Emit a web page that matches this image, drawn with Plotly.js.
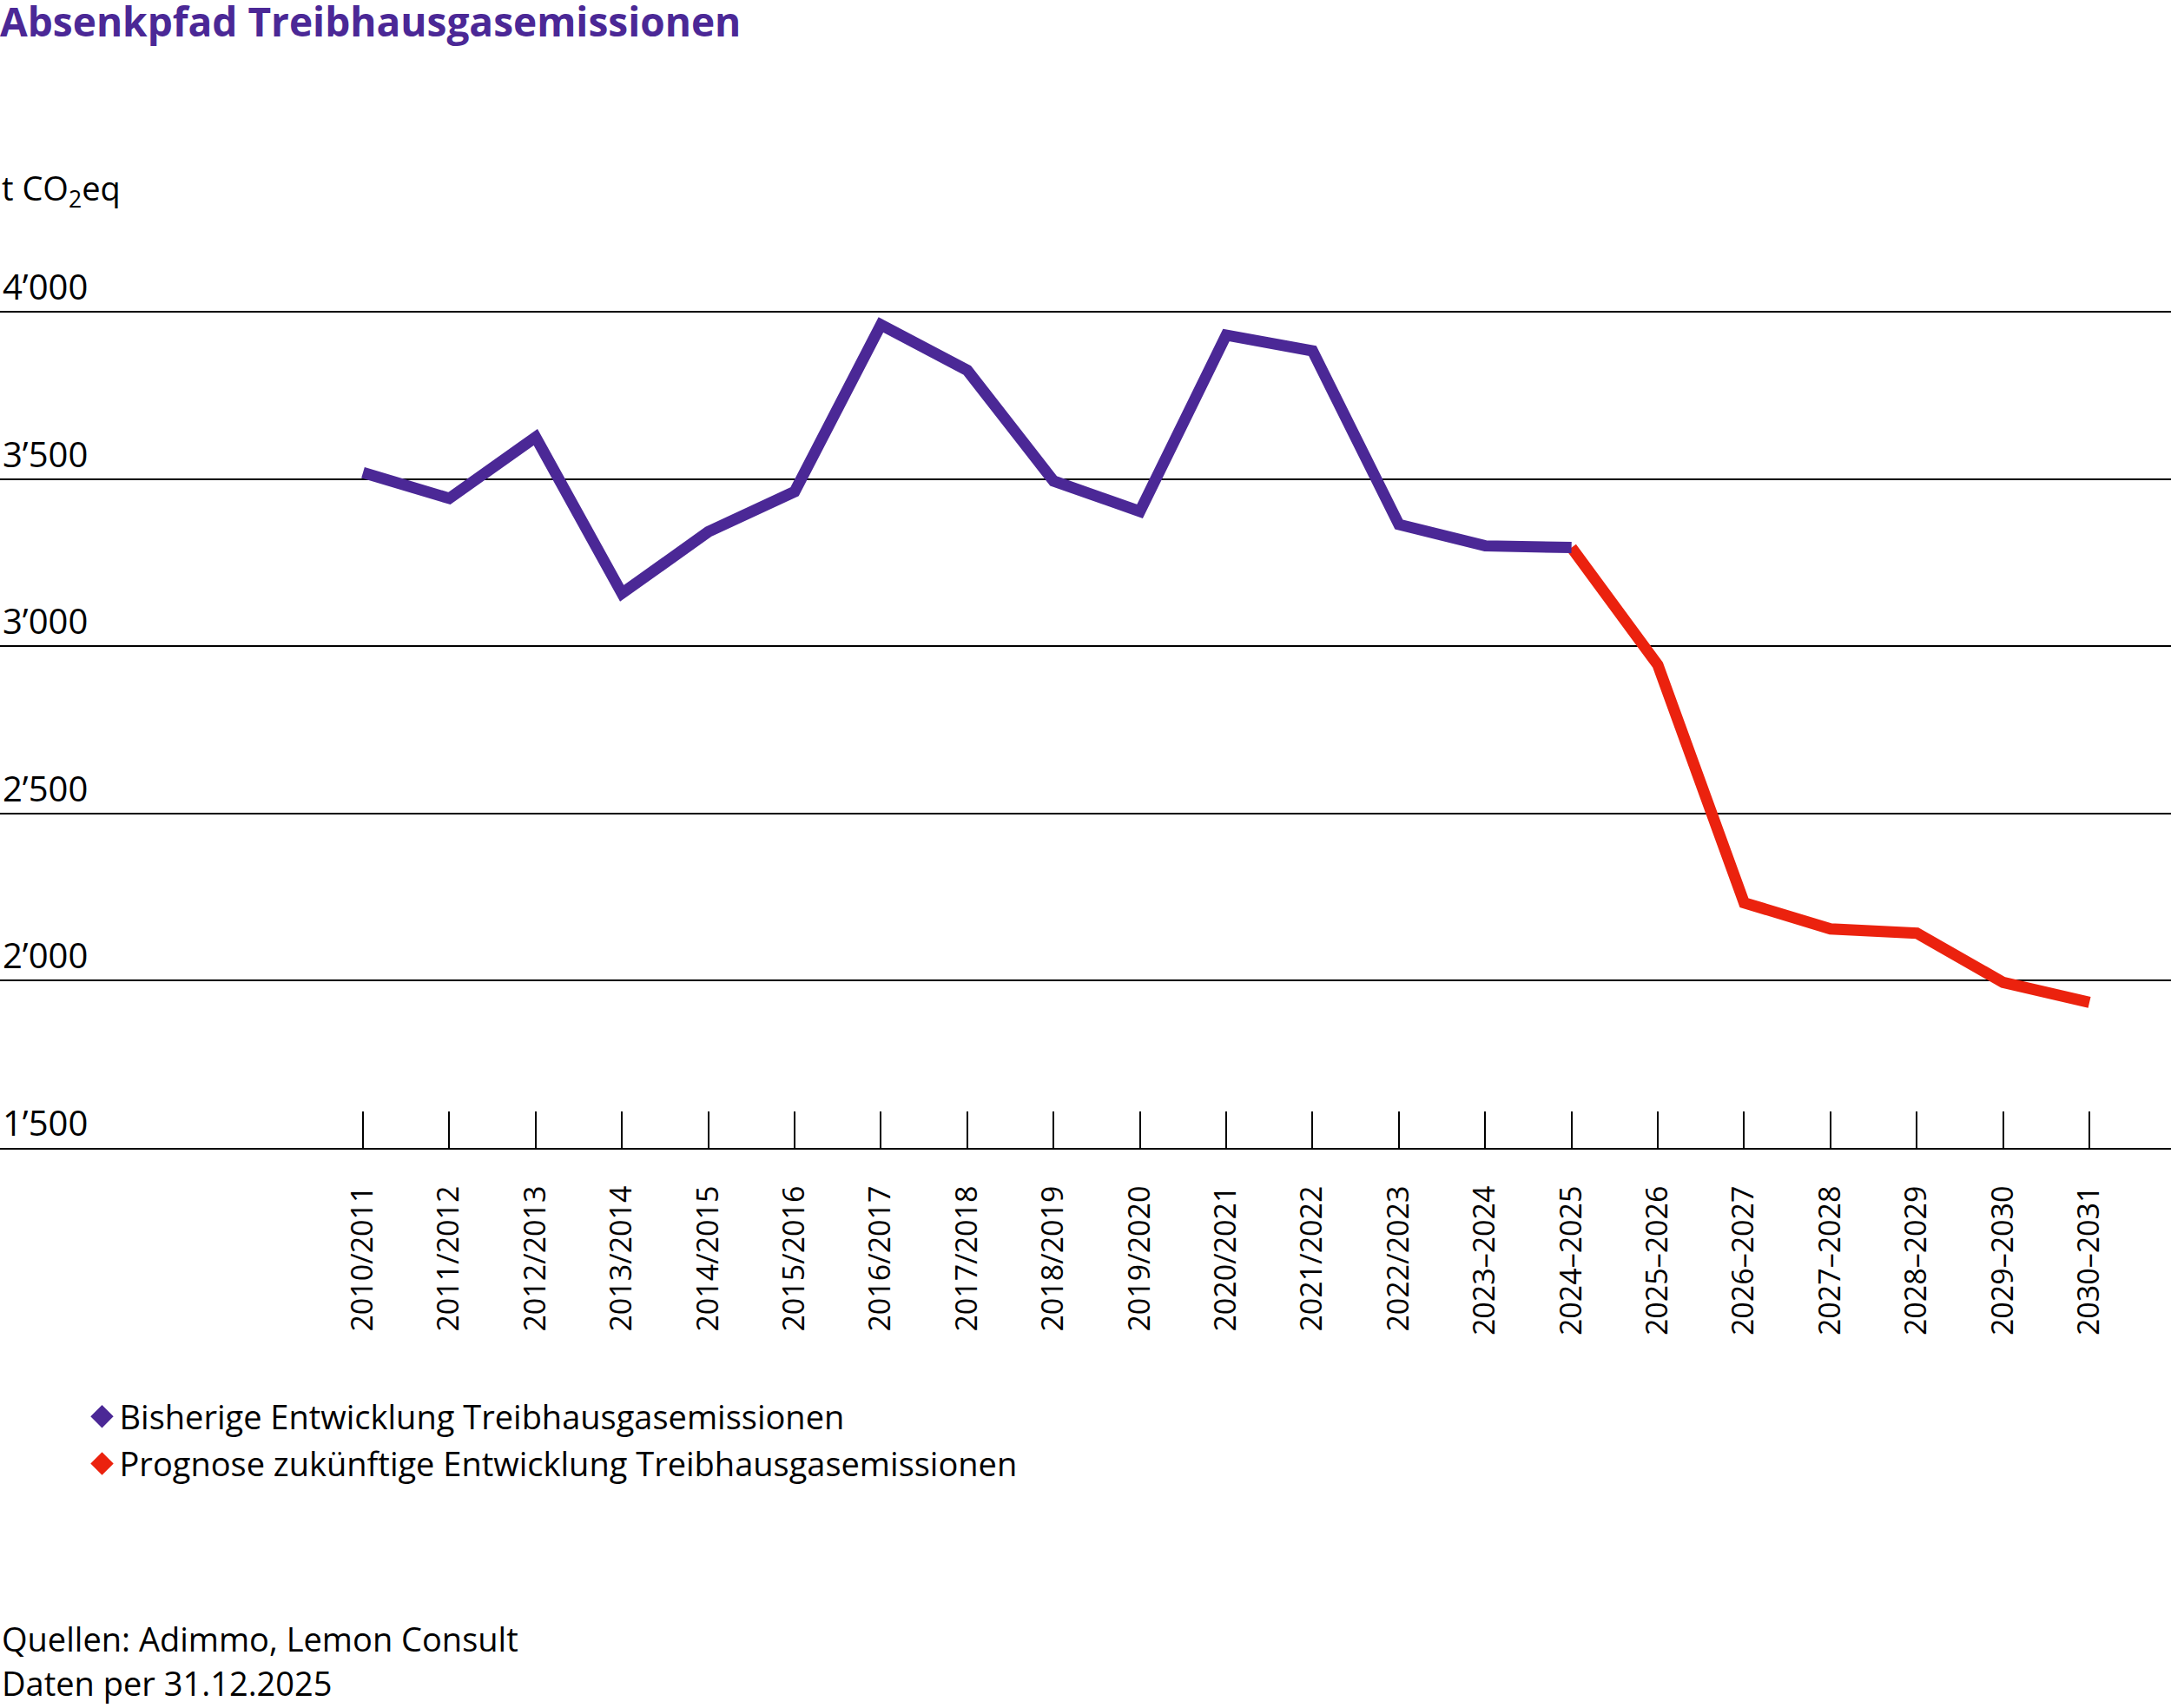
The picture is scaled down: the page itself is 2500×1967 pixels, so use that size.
<!DOCTYPE html>
<html>
<head>
<meta charset="utf-8">
<script src="https://cdn.plot.ly/plotly-3.0.1.min.js"></script>
<style>
  html, body { margin: 0; padding: 0; background: #fff; }
  #chart { width: 2500px; height: 1967px; }
</style>
</head>
<body>
<div id="chart"></div>
<script>
// school years on the x axis
var categories = ["2010/2011", "2011/2012", "2012/2013", "2013/2014", "2014/2015", "2015/2016",
  "2016/2017", "2017/2018", "2018/2019", "2019/2020", "2020/2021", "2021/2022", "2022/2023",
  "2023–2024", "2024–2025", "2025–2026", "2026–2027", "2027–2028", "2028–2029", "2029–2030", "2030–2031"];

// t CO2eq
var histValues = [3519, 3442, 3625, 3158, 3342, 3462, 3961, 3825, 3494, 3403, 3930, 3883, 3364, 3300, 3295];
var forecastValues = [3295, 2944, 2233, 2155, 2142, 1995, 1935];  // from 2024–2025 on

var yTickVals = [1500, 2000, 2500, 3000, 3500, 4000];
var yTickText = ["1’500", "2’000", "2’500", "3’000", "3’500", "4’000"];

var histName = "Bisherige Entwicklung Treibhausgasemissionen";
var forecastName = "Prognose zukünftige Entwicklung Treibhausgasemissionen";

var purple = "#4b2896";
var red = "#eb220e";
var fontFam = "'Open Sans', 'Noto Sans', sans-serif";

var histCats = categories.slice(0, histValues.length);
var forecastCats = categories.slice(histValues.length - 1);

var traceForecast = {
  x: forecastCats,
  y: forecastValues,
  type: 'scatter',
  mode: 'lines',
  line: {color: red, width: 13},
  showlegend: false
};

var traceHist = {
  x: histCats,
  y: histValues,
  type: 'scatter',
  mode: 'lines',
  line: {color: purple, width: 13},
  showlegend: false
};

// legend entries with diamonds
var legHist = {
  x: [null], y: [null], type: 'scatter', mode: 'markers',
  name: histName, legendgroup: 'a',
  marker: {symbol: 'diamond', color: purple, size: 16, line: {color: purple, width: 4}}
};
var legForecast = {
  x: [null], y: [null], type: 'scatter', mode: 'markers',
  name: forecastName, legendgroup: 'b',
  marker: {symbol: 'diamond', color: red, size: 16, line: {color: red, width: 4}}
};

var plotTop = 300, plotBottom = 1322, plotH = plotBottom - plotTop;
function paperY(py) { return (plotBottom - py) / plotH; }

var layout = {
  width: 2500,
  height: 1967,
  margin: {l: 0, r: 0, t: plotTop, b: 1967 - plotBottom, autoexpand: false},
  paper_bgcolor: '#fff',
  plot_bgcolor: '#fff',
  font: {family: fontFam, size: 38, color: '#000'},
  title: {
    text: 'Absenkpfad Treibhausgasemissionen',
    x: 0, xref: 'container', xanchor: 'left',
    y: 0.995, yref: 'container', yanchor: 'top',
    pad: {t: 0, l: 0},
    font: {family: fontFam, size: 46, weight: 700, color: purple}
  },
  xaxis: {
    type: 'category',
    categoryorder: 'array',
    categoryarray: categories,
    range: [-4.205, 20.945],
    showgrid: false,
    zeroline: false,
    showline: true,
    linecolor: '#000',
    linewidth: 2,
    ticks: 'inside',
    ticklen: 42,
    tickwidth: 2,
    tickcolor: '#000',
    tickangle: -90,
    ticklabelstandoff: 28,
    tickfont: {family: fontFam, size: 34, color: '#000'},
    fixedrange: true
  },
  yaxis: {
    range: [1500, 1500 + plotH / 192.6 * 500],
    tickvals: yTickVals,
    ticktext: yTickText,
    showgrid: true,
    gridcolor: '#000',
    gridwidth: 2,
    zeroline: false,
    showline: false,
    ticks: '',
    ticklabelposition: 'inside top',
    tickfont: {family: fontFam, size: 40, color: '#000'},
    fixedrange: true
  },
  legend: {
    x: 0.039, xref: 'container', xanchor: 'left',
    y: 1 - 1600 / 1967, yref: 'container', yanchor: 'top',
    traceorder: 'grouped',
    tracegroupgap: 2,
    itemsizing: 'trace',
    bgcolor: 'rgba(0,0,0,0)',
    font: {family: fontFam, size: 38, color: '#000'}
  },
  annotations: [
    {text: 't CO<sub>2</sub>eq', xref: 'paper', x: 0, xanchor: 'left',
     yref: 'paper', y: paperY(218), yanchor: 'middle', showarrow: false,
     font: {family: fontFam, size: 38, color: '#000'}},
    {text: 'Quellen: Adimmo, Lemon Consult', xref: 'paper', x: 0, xanchor: 'left',
     yref: 'paper', y: paperY(1887), yanchor: 'middle', showarrow: false,
     font: {family: fontFam, size: 38, color: '#000'}},
    {text: 'Daten per 31.12.2025', xref: 'paper', x: 0, xanchor: 'left',
     yref: 'paper', y: paperY(1938), yanchor: 'middle', showarrow: false,
     font: {family: fontFam, size: 38, color: '#000'}}
  ],
  hovermode: false
};

Plotly.newPlot('chart', [traceForecast, traceHist, legHist, legForecast], layout, {displayModeBar: false, staticPlot: true});
</script>
</body>
</html>
